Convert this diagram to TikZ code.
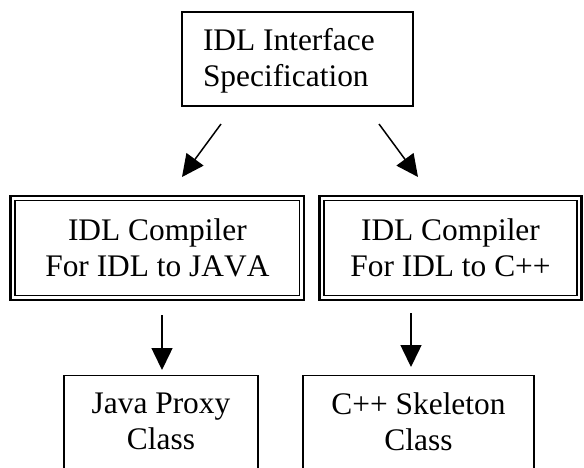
\documentclass[tikz,border=0pt]{standalone}
\usepackage{fontspec}
\setmainfont[Kerning=Off]{Liberation Serif}
\usetikzlibrary{arrows.meta}
\begin{document}
\begin{tikzpicture}[x=1pt,y=-1pt,
  txt/.style={font=\fontsize{31.4}{36.5}\selectfont, inner sep=0pt, outer sep=0pt, align=center},
  box/.style={draw, line width=1.7pt, inner sep=0pt, outer sep=0pt},
  outerbox/.style={draw, line width=2.7pt, inner sep=0pt, outer sep=0pt},
  innerline/.style={draw, line width=1.7pt},
  arr/.style={line width=1.5pt, -{Triangle[length=22pt,width=21pt]}}]
\clip (0,0) rectangle (584,467);
% top box
\node[box, minimum width=231pt, minimum height=94pt] (spec) at (297.5,59) {};
\node[txt, align=left, anchor=west] (specT) at (203,61) {IDL Interface\\Specification};
% compiler boxes
\node[outerbox, txt, minimum width=293.2pt, minimum height=104pt] (cj) at (157.4,248) {IDL Compiler\\For IDL to JAVA};
\draw[innerline] ([shift={(4.5pt,-4.5pt)}]cj.north west) rectangle ([shift={(-4.5pt,4.5pt)}]cj.south east);
\node[outerbox, txt, minimum width=262pt, minimum height=104pt] (cc) at (450.5,248) {IDL Compiler\\For IDL to C++};
\draw[innerline] ([shift={(4.5pt,-4.5pt)}]cc.north west) rectangle ([shift={(-4.5pt,4.5pt)}]cc.south east);
% bottom boxes
\node[box, minimum width=194pt, minimum height=140pt, anchor=north] (java) at (161,375.5) {};
\node[txt] (javaT) at (161,421.6) {Java Proxy\\Class};
\node[box, minimum width=231pt, minimum height=140pt, anchor=north] (cpp) at (418.5,375.5) {};
\node[txt] (cppT) at (418.5,421.6) {C++ Skeleton\\Class};
% arrows
\coordinate (s1) at (221,124); \coordinate (e1) at (182,177);
\coordinate (s2) at (379,124); \coordinate (e2) at (418,177);
\coordinate (s3) at (162,315); \coordinate (e3) at (162,370);
\coordinate (s4) at (411,313); \coordinate (e4) at (411,367);
\draw[arr] (s1) -- (e1);
\draw[arr] (s2) -- (e2);
\draw[arr] (s3) -- (e3);
\draw[arr] (s4) -- (e4);
\end{tikzpicture}
\end{document}
